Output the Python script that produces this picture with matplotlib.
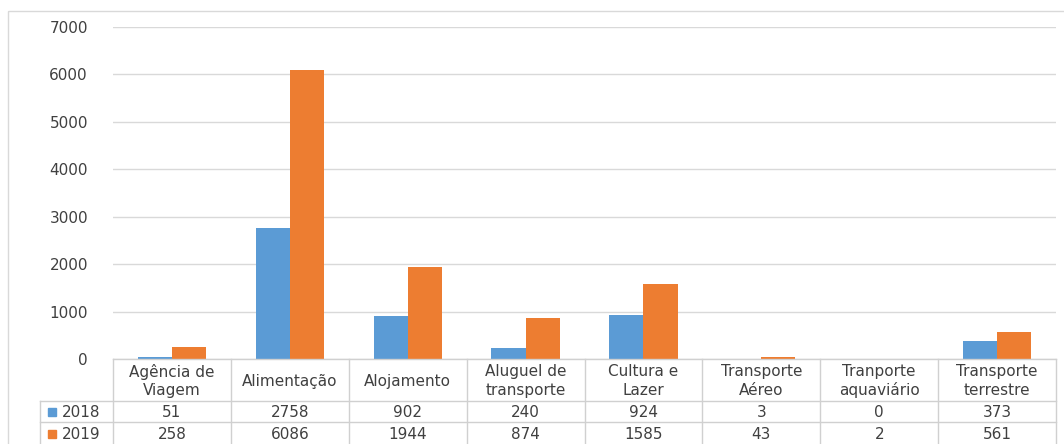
import numpy as np
import matplotlib
matplotlib.use("Agg")
import matplotlib.pyplot as plt
from matplotlib.patches import Rectangle

# --- data ---
categories = ["Agência de\nViagem", "Alimentação", "Alojamento",
              "Aluguel de\ntransporte", "Cultura e\nLazer", "Transporte\nAéreo",
              "Tranporte\naquaviário", "Transporte\nterrestre"]
series_names = ["2018", "2019"]
vals_2018 = [51, 2758, 902, 240, 924, 3, 0, 373]
vals_2019 = [258, 6086, 1944, 874, 1585, 43, 2, 561]
yticks = [0, 1000, 2000, 3000, 4000, 5000, 6000, 7000]

# --- style ---
W, H = 1064, 444
BLUE = "#5b9bd5"
ORANGE = "#ed7d31"
TXT = "#404040"
GRID = "#d9d9d9"
FONT = "DejaVu Sans"
FS = 11

# pixel layout of plot area
PL, PR = 113, 1056
PT, PB = 27, 359
ROW1, ROW2, ROW3 = 401, 422, 444
LEG_X = 40

fig = plt.figure(figsize=(W / 100, H / 100), dpi=100)
ax = fig.add_axes([PL / W, 1 - PB / H, (PR - PL) / W, (PB - PT) / H])

x = np.arange(len(categories))
bw = 0.29
ax.bar(x - bw / 2, vals_2018, bw, color=BLUE, zorder=3)
ax.bar(x + bw / 2, vals_2019, bw, color=ORANGE, zorder=3)

ax.set_xlim(-0.5, len(categories) - 0.5)
ax.set_ylim(0, 7000)
ax.set_yticks(yticks)
ax.set_yticklabels([str(v) for v in yticks], fontfamily=FONT, fontsize=FS, color=TXT)
ax.tick_params(axis="y", length=0, pad=18)
ax.set_xticks([])
ax.yaxis.grid(True, color=GRID, linewidth=1, zorder=0)
for s in ax.spines.values():
    s.set_visible(False)

# --- overlay in pixel coords for border and data table ---
ov = fig.add_axes([0, 0, 1, 1], zorder=-1)
ov.set_xlim(0, W)
ov.set_ylim(H, 0)
ov.axis("off")
ov.add_patch(Rectangle((8, 11), W, H, fill=False, edgecolor=GRID, linewidth=1))

tab = fig.add_axes([0, 0, 1, 1])
tab.set_xlim(0, W)
tab.set_ylim(H, 0)
tab.axis("off")
tab.patch.set_alpha(0)

ncat = len(categories)
colw = (PR - PL) / ncat
lc = "#d0d0d0"
# horizontal lines
tab.plot([PL, PR], [PB, PB], color=lc, lw=1)
tab.plot([LEG_X, PR], [ROW1, ROW1], color=lc, lw=1)
tab.plot([LEG_X, PR], [ROW2, ROW2], color=lc, lw=1)
# vertical lines
for i in range(ncat + 1):
    xx = PL + i * colw
    tab.plot([xx, xx], [PB, H], color=lc, lw=1)
tab.plot([LEG_X, LEG_X], [ROW1, H], color=lc, lw=1)

for i, c in enumerate(categories):
    cx = PL + (i + 0.5) * colw
    tab.text(cx, (PB + ROW1) / 2 + 1, c, ha="center", va="center",
             fontfamily=FONT, fontsize=FS, color=TXT, linespacing=1.3)
    tab.text(cx, (ROW1 + ROW2) / 2 + 1, str(vals_2018[i]), ha="center", va="center",
             fontfamily=FONT, fontsize=FS, color=TXT)
    tab.text(cx, (ROW2 + ROW3) / 2 + 1, str(vals_2019[i]), ha="center", va="center",
             fontfamily=FONT, fontsize=FS, color=TXT)

for name, col, (y0, y1) in zip(series_names, [BLUE, ORANGE], [(ROW1, ROW2), (ROW2, ROW3)]):
    ym = (y0 + y1) / 2
    tab.add_patch(Rectangle((48, ym - 3.5), 8, 8, color=col))
    tab.text(62, ym + 1, name, ha="left", va="center",
             fontfamily=FONT, fontsize=FS, color=TXT)

fig.savefig("out.png", dpi=100)
